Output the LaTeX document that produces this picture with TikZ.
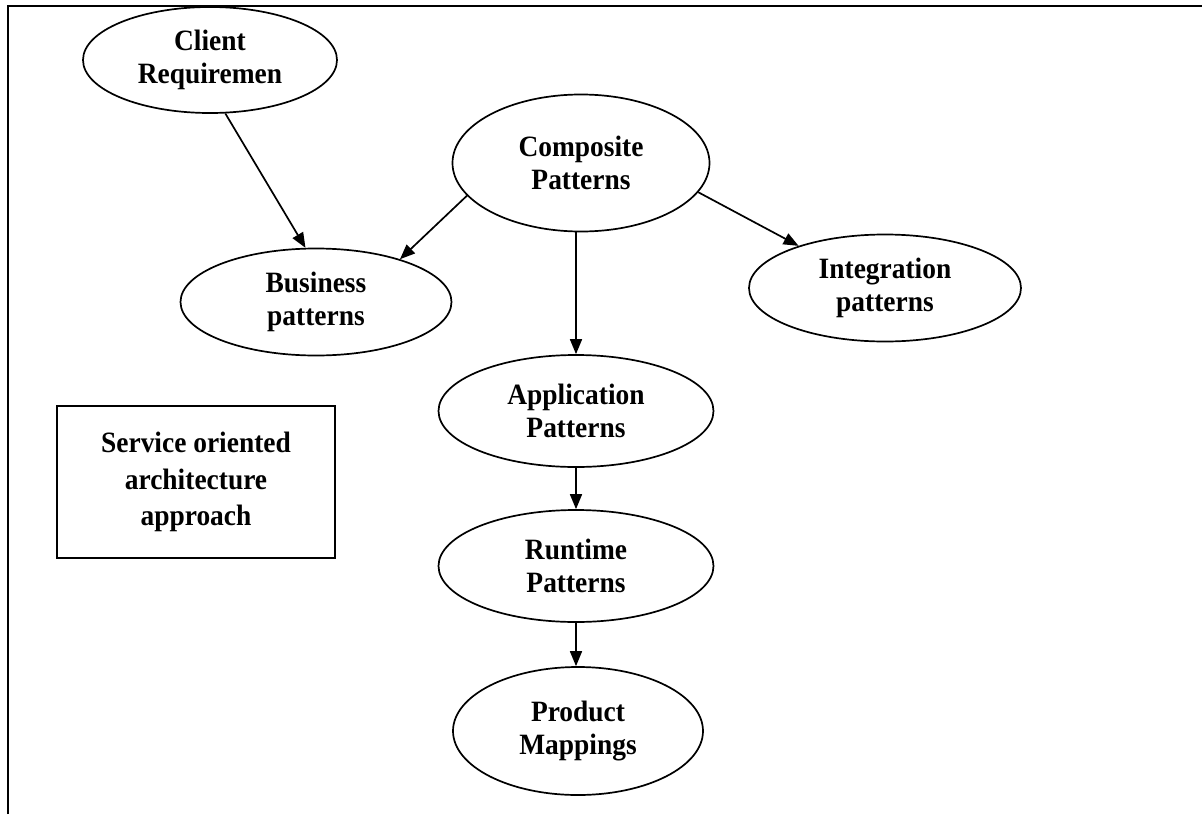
\documentclass[tikz,border=0pt]{standalone}
\usepackage{fontspec}
\setmainfont[FakeStretch=0.93]{Liberation Serif}
\usetikzlibrary{shapes.geometric,arrows.meta}
\begin{document}
\begin{tikzpicture}[x=1pt,y=-1pt,
  ell/.style={draw, line width=1.7pt, ellipse, inner sep=0pt, align=center,
    font=\fontsize{29.5}{33}\selectfont\bfseries},
  arr/.style={line width=1.7pt, -{Triangle[length=15pt,width=12pt]}},
  boxnode/.style={draw, line width=1.8pt, rectangle, inner sep=0pt, align=center,
    font=\fontsize{29.5}{36.5}\selectfont\bfseries}]
\useasboundingbox (0,0) rectangle (1202,814);
\draw[line width=2.2pt] (8,814) -- (8,6) -- (1202,6);
\node[ell, minimum width=254pt, minimum height=106pt] (client) at (210,60) {Client\\Requiremen};
\node[ell, minimum width=257pt, minimum height=137pt] (comp) at (581,163) {Composite\\Patterns};
\node[ell, minimum width=271pt, minimum height=107pt] (bus) at (316,302) {Business\\patterns};
\node[ell, minimum width=272pt, minimum height=107pt] (integ) at (885,288) {Integration\\patterns};
\node[ell, minimum width=275pt, minimum height=112pt] (app) at (576,411) {Application\\Patterns};
\node[ell, minimum width=275pt, minimum height=112pt] (run) at (576,566) {Runtime\\Patterns};
\node[ell, minimum width=250pt, minimum height=128pt] (prod) at (578,731) {Product\\Mappings};
\node[boxnode, minimum width=278pt, minimum height=152pt] (soa) at (196,482) {Service oriented\\architecture\\approach};
\draw[arr] (client.-74) -- (bus.101);
\draw[arr] (comp.196) -- (bus.27);
\draw[arr] (comp.-14) -- (integ.154);
\draw[arr] (comp.south -| app.north) -- (app.north);
\draw[arr] (app.south) -- (run.north);
\draw[arr] (run.south) -- (run.south |- prod.north);
\end{tikzpicture}
\end{document}
